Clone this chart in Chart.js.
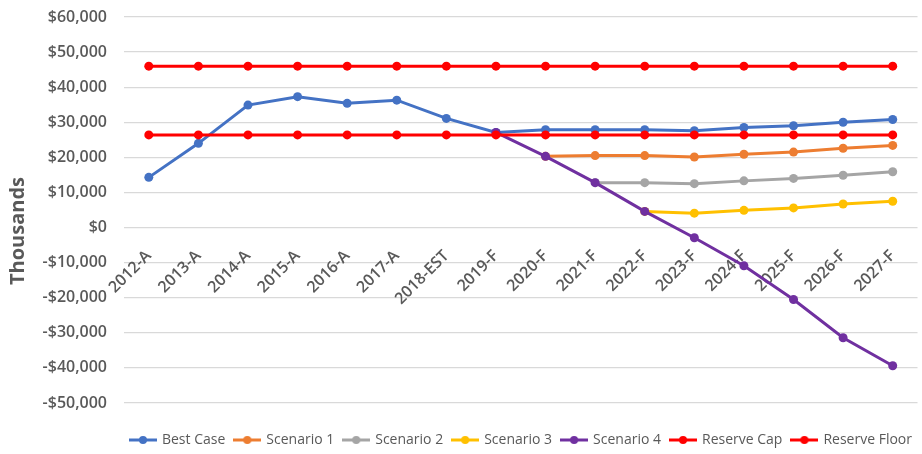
<!DOCTYPE html>
<html>
<head>
<meta charset="utf-8">
<script src="https://cdn.jsdelivr.net/npm/chart.js@4"></script>
<style>
  html, body { margin: 0; padding: 0; background: #fff; }
  #wrap { width: 922px; height: 454px; position: relative; }
</style>
</head>
<body>
<div id="wrap"><canvas id="reserveChart"></canvas></div>
<script>
const years = ["2012-A", "2013-A", "2014-A", "2015-A", "2016-A", "2017-A", "2018-EST", "2019-F",
  "2020-F", "2021-F", "2022-F", "2023-F", "2024-F", "2025-F", "2026-F", "2027-F"];

const bestCase = [14300, 24000, 34900, 37300, 35400, 36300, 31100, 27100,
  27900, 27900, 27900, 27600, 28500, 29000, 30000, 30800];
const scenario1 = [null, null, null, null, null, null, null, null,
  20300, 20500, 20500, 20100, 20900, 21500, 22600, 23400];
const scenario2 = [null, null, null, null, null, null, null, null,
  null, 12800, 12800, 12500, 13300, 14000, 14900, 15900];
const scenario3 = [null, null, null, null, null, null, null, null,
  null, null, 4600, 4100, 4900, 5600, 6700, 7500];
const scenario4 = [null, null, null, null, null, null, null, 27100,
  20300, 12800, 4600, -2900, -10900, -20500, -31400, -39400];
const reserveCap = [46000, 46000, 46000, 46000, 46000, 46000, 46000, 46000,
  46000, 46000, 46000, 46000, 46000, 46000, 46000, 46000];
const reserveFloor = [26400, 26400, 26400, 26400, 26400, 26400, 26400, 26400,
  26400, 26400, 26400, 26400, 26400, 26400, 26400, 26400];

const seriesNames = ["Best Case", "Scenario 1", "Scenario 2", "Scenario 3", "Scenario 4", "Reserve Cap", "Reserve Floor"];
const seriesColors = ["#4472C4", "#ED7D31", "#A5A5A5", "#FFC000", "#7030A0", "#FF0000", "#FF0000"];
const seriesData = [bestCase, scenario1, scenario2, scenario3, scenario4, reserveCap, reserveFloor];

const yMin = -50000;
const yMax = 60000;
const yStep = 10000;
const axisTitle = "Thousands";

const grey = "#595959";
const font = "'Open Sans', sans-serif";

// little line + dot marker for the legend, like excel
function legendMarker(color) {
  const c = document.createElement("canvas");
  c.width = 28;
  c.height = 10;
  const g = c.getContext("2d");
  g.strokeStyle = color;
  g.lineWidth = 3;
  g.beginPath();
  g.moveTo(0, 5);
  g.lineTo(28, 5);
  g.stroke();
  g.fillStyle = color;
  g.beginPath();
  g.arc(14, 5, 4, 0, Math.PI * 2);
  g.fill();
  return c;
}

const datasets = seriesNames.map((name, i) => ({
  label: name,
  data: seriesData[i],
  borderColor: seriesColors[i],
  backgroundColor: seriesColors[i],
  borderWidth: 3,
  pointRadius: 4.5,
  pointHoverRadius: 4.5,
  pointBorderWidth: 0,
  tension: 0,
  fill: false,
  order: seriesNames.length - i,
}));

// y axis title, sits a bit lower than the plot centre in the original
const sideTitle = {
  id: "sideTitle",
  afterDraw(chart) {
    const c = chart.ctx;
    c.save();
    c.translate(18, 231);
    c.rotate(-Math.PI / 2);
    c.font = "bold 20px " + font;
    c.fillStyle = grey;
    c.textAlign = "center";
    c.textBaseline = "middle";
    c.fillText(axisTitle, 0, 0);
    c.restore();
  },
};

const ctx = document.getElementById("reserveChart").getContext("2d");
new Chart(ctx, {
  type: "line",
  data: { labels: years, datasets: datasets },
  plugins: [sideTitle],
  options: {
    responsive: true,
    maintainAspectRatio: false,
    animation: false,
    layout: { padding: { top: 17, right: 0, left: 0, bottom: -3 } },
    plugins: {
      tooltip: { enabled: false },
      legend: {
        position: "bottom",
        align: "end",
        title: {
          display: true,
          text: " ",
          font: { size: 1, lineHeight: 1 },
          padding: { top: 19, bottom: 0 },
        },
        labels: {
          color: grey,
          font: { family: font, size: 14, weight: "500" },
          usePointStyle: true,
          pointStyleWidth: 24,
          boxHeight: 10,
          padding: 10,
          sort: (a, b) => a.datasetIndex - b.datasetIndex,
          generateLabels: (chart) => chart.data.datasets.map((ds, i) => ({
            text: ds.label,
            fillStyle: ds.borderColor,
            strokeStyle: ds.borderColor,
            pointStyle: legendMarker(ds.borderColor),
            fontColor: grey,
            lineWidth: 0,
            hidden: false,
            datasetIndex: i,
          })),
        },
      },
    },
    scales: {
      x: {
        position: { y: 0 },
        offset: true,
        grid: { display: false },
        border: { display: false },
        ticks: {
          color: grey,
          font: { family: font, size: 16, weight: "600" },
          minRotation: 45,
          maxRotation: 45,
          autoSkip: false,
          padding: 11,
        },
      },
      y: {
        min: yMin,
        max: yMax,
        afterFit: (scale) => {
          scale.width = 124;
          scale.paddingTop = 0;
          scale.paddingBottom = 0;
        },
        grid: { color: "#d9d9d9", lineWidth: 1.3, drawTicks: false },
        border: { display: false },
        ticks: {
          stepSize: yStep,
          color: grey,
          padding: 17,
          font: { family: font, size: 16, weight: "600" },
          callback: (v) => (v < 0 ? "-$" : "$") + Math.abs(v).toLocaleString("en-US"),
        },
      },
    },
  },
});
</script>
</body>
</html>
